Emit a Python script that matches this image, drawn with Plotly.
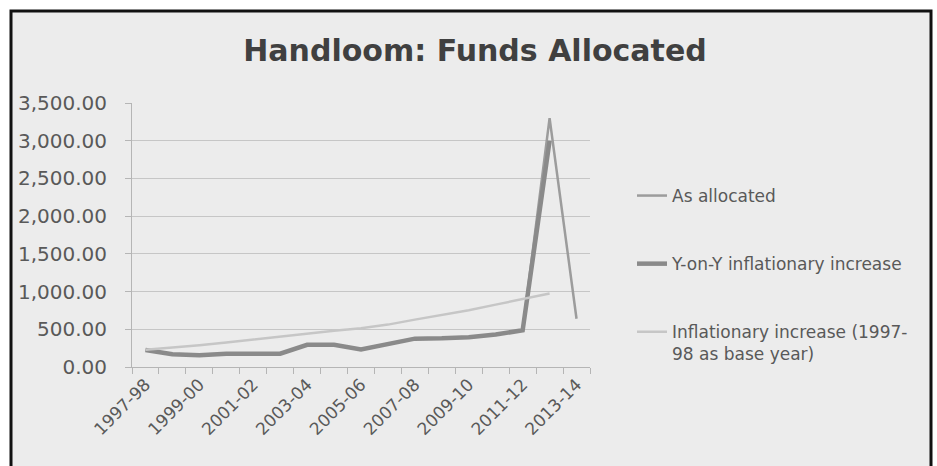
import plotly.graph_objects as go

categories = ["1997-98", "1998-99", "1999-00", "2000-01", "2001-02", "2002-03",
              "2003-04", "2004-05", "2005-06", "2006-07", "2007-08", "2008-09",
              "2009-10", "2010-11", "2011-12", "2012-13", "2013-14"]
as_allocated = [225, 168, 155, 177, 177, 177, 295, 295, 232, 300, 376, 380,
                393, 430, 487, 3300, 640]
yoy_increase = [225, 168, 155, 177, 177, 177, 295, 295, 232, 300, 376, 380,
                393, 430, 487, 3000, None]
base_year_increase = [230, 257, 290, 325, 365, 405, 445, 480, 515, 562, 628,
                      686, 752, 827, 898, 974, None]
tick_labels = [c if i % 2 == 0 else "" for i, c in enumerate(categories)]
y_ticks = [0, 500, 1000, 1500, 2000, 2500, 3000, 3500]

FONT = "DejaVu Sans"
TXT = "#595959"

fig = go.Figure()
fig.add_trace(go.Scatter(x=categories, y=as_allocated, mode="lines",
                         name="As allocated", legendgroup="a",
                         line=dict(color="#9c9c9c", width=2.5)))
fig.add_trace(go.Scatter(x=categories, y=yoy_increase, mode="lines",
                         name="Y-on-Y inflationary increase", legendgroup="b",
                         line=dict(color="#8a8a8a", width=4.5)))
fig.add_trace(go.Scatter(x=categories, y=base_year_increase, mode="lines",
                         name="Inflationary increase (1997-<br>98 as base year)",
                         legendgroup="c",
                         line=dict(color="#c6c6c6", width=2.5)))

W, H = 937, 466
L, R, T, B = 132, 347, 103, 99
pw, ph = W - L - R, H - T - B

def px_x(p):
    return (p - L) / pw

def px_y(p):
    return (H - B - p) / ph

fig.add_shape(type="rect", xref="paper", yref="paper", layer="below",
              x0=px_x(11), x1=px_x(931), y0=px_y(480), y1=px_y(11),
              fillcolor="#ececec", line=dict(color="#111111", width=3))

fig.update_layout(
    width=W, height=H,
    margin=dict(l=L, r=R, t=T, b=B),
    paper_bgcolor="white",
    plot_bgcolor="rgba(0,0,0,0)",
    title=dict(text="<b>Handloom: Funds Allocated</b>", xref="container",
               x=475 / W, xanchor="center",
               y=1 - 50 / H, yanchor="middle",
               font=dict(family=FONT, size=30, color="#404040")),
    font=dict(family=FONT, color=TXT),
    showlegend=True,
    legend=dict(x=px_x(632), xanchor="left", y=px_y(178), yanchor="top",
                font=dict(family=FONT, size=17, color=TXT),
                bgcolor="rgba(0,0,0,0)", tracegroupgap=43, valign="top",
                itemwidth=30),
    xaxis=dict(type="category", categoryorder="array", categoryarray=categories,
               range=[-0.5, 16.5], tickmode="array", tickvals=categories,
               ticktext=tick_labels, tickson="boundaries", ticks="outside",
               ticklen=6, tickcolor="#b5b5b5", tickangle=-45,
               tickfont=dict(family=FONT, size=17, color=TXT),
               showgrid=False, showline=True, linecolor="#b5b5b5", linewidth=1,
               zeroline=False),
    yaxis=dict(range=[0, 3500], tickmode="array", tickvals=y_ticks,
               tickformat=",.2f", ticks="outside", ticklen=6,
               tickcolor="#b5b5b5", showgrid=True, gridcolor="#c6c6c6",
               gridwidth=1, showline=True, linecolor="#b5b5b5",
               zeroline=False, ticklabelstandoff=14,
               tickfont=dict(family=FONT, size=20, color=TXT)),
)

fig.write_html("out.html", config={"displayModeBar": False},
               post_script="document.body.style.margin='0';document.body.style.padding='0';")
